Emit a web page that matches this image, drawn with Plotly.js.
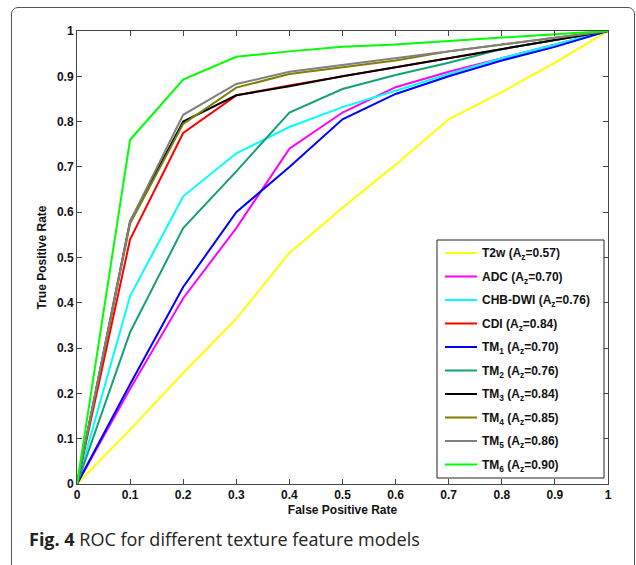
<!DOCTYPE html>
<html><head><meta charset="utf-8">
<script src="https://cdn.plot.ly/plotly-3.0.1.min.js"></script>
<style>
body{margin:0;padding:0;background:#fff;}
#wrap{position:relative;width:636px;height:565px;overflow:hidden;}
#frame{position:absolute;left:11px;top:7px;width:624px;height:568px;border:1.3px solid #555;border-radius:7px;box-sizing:border-box;}
#chart{position:absolute;left:0;top:0;width:636px;height:565px;}
</style>
</head><body>
<div id="wrap"><div id="frame"></div><div id="chart"></div></div>
<script>
const fpr = [0, 0.1, 0.2, 0.3, 0.4, 0.5, 0.6, 0.7, 0.8, 0.9, 1.0];
const seriesNames = ["T2w (A<sub>z</sub>=0.57)", "ADC (A<sub>z</sub>=0.70)", "CHB-DWI (A<sub>z</sub>=0.76)", "CDI (A<sub>z</sub>=0.84)",
  "TM<sub>1</sub> (A<sub>z</sub>=0.70)", "TM<sub>2</sub> (A<sub>z</sub>=0.76)", "TM<sub>3</sub> (A<sub>z</sub>=0.84)",
  "TM<sub>4</sub> (A<sub>z</sub>=0.85)", "TM<sub>5</sub> (A<sub>z</sub>=0.86)", "TM<sub>6</sub> (A<sub>z</sub>=0.90)"];
const seriesColors = ["#ffff00", "#ff00ff", "#00ffff", "#ff0000", "#0000ff", "#16a076", "#000000", "#7f7f00", "#808080", "#00ff00"];
const tprT2w   = [0, 0.12, 0.245, 0.365, 0.51, 0.61, 0.705, 0.805, 0.865, 0.93, 1];
const tprADC   = [0, 0.21, 0.41, 0.565, 0.74, 0.82, 0.876, 0.91, 0.94, 0.97, 1];
const tprCHB   = [0, 0.415, 0.635, 0.73, 0.788, 0.832, 0.868, 0.905, 0.94, 0.97, 1];
const tprCDI   = [0, 0.54, 0.775, 0.858, 0.88, 0.9, 0.92, 0.94, 0.96, 0.98, 1];
const tprTM1   = [0, 0.22, 0.435, 0.6, 0.7, 0.805, 0.861, 0.9, 0.935, 0.965, 1];
const tprTM2   = [0, 0.335, 0.565, 0.69, 0.82, 0.872, 0.903, 0.93, 0.96, 0.98, 1];
const tprTM3   = [0, 0.58, 0.8, 0.858, 0.878, 0.9, 0.92, 0.94, 0.96, 0.98, 1];
const tprTM4   = [0, 0.575, 0.795, 0.875, 0.905, 0.92, 0.935, 0.955, 0.97, 0.985, 1];
const tprTM5   = [0, 0.58, 0.815, 0.883, 0.91, 0.925, 0.94, 0.955, 0.97, 0.985, 1];
const tprTM6   = [0, 0.76, 0.893, 0.943, 0.955, 0.965, 0.97, 0.978, 0.985, 0.993, 1];
const tprAll = [tprT2w, tprADC, tprCHB, tprCDI, tprTM1, tprTM2, tprTM3, tprTM4, tprTM5, tprTM6];
const tickVals = [0, 0.1, 0.2, 0.3, 0.4, 0.5, 0.6, 0.7, 0.8, 0.9, 1];
const tickText = ["0", "0.1", "0.2", "0.3", "0.4", "0.5", "0.6", "0.7", "0.8", "0.9", "1"];

const FONT = 'Liberation Sans';
const traces = tprAll.map((t, i) => ({
  x: fpr, y: t, type: 'scatter', mode: 'lines', name: seriesNames[i],
  line: {color: seriesColors[i], width: 2}, showlegend: false
}));

// legend box drawn in paper coordinates (plot area: 531 x 453 px)
const PW = 531, PH = 453;
const px2x = p => (p - 77) / PW;
const py2y = p => (484 - p) / PH;
const shapes = [{
  type: 'rect', xref: 'paper', yref: 'paper',
  x0: px2x(437), x1: px2x(604), y0: py2y(478), y1: py2y(240),
  fillcolor: '#fff', line: {color: '#222', width: 1}, layer: 'above'
}];
const annotations = [];
seriesNames.forEach((nm, i) => {
  const cy = 253 + i * 23.5;
  shapes.push({type: 'line', xref: 'paper', yref: 'paper', layer: 'above',
    x0: px2x(445), x1: px2x(477), y0: py2y(cy), y1: py2y(cy),
    line: {color: seriesColors[i], width: 2}});
  annotations.push({xref: 'paper', yref: 'paper', x: px2x(480), y: py2y(cy + 1),
    xanchor: 'left', yanchor: 'middle', showarrow: false, text: nm,
    font: {family: FONT, size: 12, color: '#111', weight: 'bold'}});
});
annotations.push({
  xref: 'paper', yref: 'paper', x: px2x(27), y: py2y(539), xanchor: 'left', yanchor: 'middle',
  showarrow: false, align: 'left',
  text: '<b>Fig. 4</b> ROC for different texture feature models',
  font: {family: 'Open Sans', size: 18, color: '#222'}
});

const axisCommon = {
  range: [0, 1], tickvals: tickVals, ticktext: tickText, ticks: 'inside', ticklen: 5,
  tickcolor: '#444', showline: true, linecolor: '#444', linewidth: 1, mirror: 'ticks',
  showgrid: false, zeroline: false,
  tickfont: {family: FONT, size: 12, color: '#111', weight: 'bold'}
};

const layout = {
  width: 636, height: 565,
  margin: {l: 77, r: 28, t: 31, b: 81},
  paper_bgcolor: 'rgba(0,0,0,0)', plot_bgcolor: '#fff',
  font: {family: FONT},
  showlegend: false,
  xaxis: Object.assign({}, axisCommon, {
    title: {text: 'False Positive Rate', standoff: 4, font: {size: 12, color: '#111', weight: 'bold', family: FONT}}
  }),
  yaxis: Object.assign({}, axisCommon, {
    title: {text: 'True Positive Rate', standoff: 7, font: {size: 12, color: '#111', weight: 'bold', family: FONT}}
  }),
  shapes: shapes,
  annotations: annotations
};

Plotly.newPlot('chart', traces, layout, {displayModeBar: false, staticPlot: true});
</script>
</body></html>
